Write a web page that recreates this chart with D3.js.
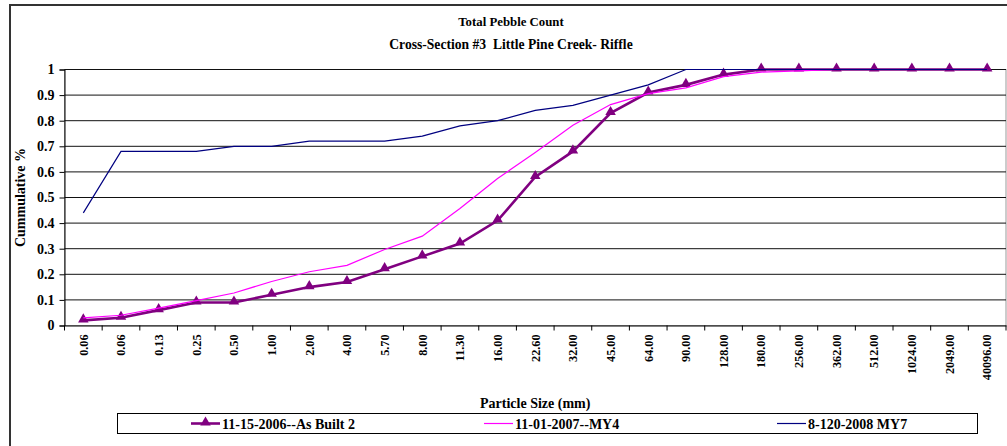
<!DOCTYPE html>
<html>
<head>
<meta charset="utf-8">
<script src="https://cdn.jsdelivr.net/npm/d3@7"></script>
<style>
	body { margin: 0; background: #fff; }
	svg { display: block; font-family: "Liberation Serif", "Times New Roman", serif; font-weight: bold; }
</style>
</head>
<body>
<div id="svg-div"></div>
<script>
// particle size classes (mm)
var sizes = ["0.06", "0.06", "0.13", "0.25", "0.50", "1.00", "2.00", "4.00", "5.70", "8.00", "11.30", "16.00",
	"22.60", "32.00", "45.00", "64.00", "90.00", "128.00", "180.00", "256.00", "362.00", "512.00",
	"1024.00", "2049.00", "40096.00"];

var asBuilt = [0.02, 0.03, 0.06, 0.09, 0.09, 0.12, 0.15, 0.17, 0.22, 0.27, 0.32, 0.41, 0.58, 0.68, 0.83, 0.91,
	0.94, 0.98, 1, 1, 1, 1, 1, 1, 1];
var my4 = [0.03, 0.04, 0.068, 0.097, 0.127, 0.172, 0.21, 0.235, 0.297, 0.349, 0.457, 0.574, 0.676, 0.782, 0.863,
	0.906, 0.928, 0.972, 0.99, 0.995, 1, 1, 1, 1, 1];
var my7 = [0.44, 0.68, 0.68, 0.68, 0.70, 0.70, 0.72, 0.72, 0.72, 0.74, 0.78, 0.80, 0.84, 0.86, 0.90, 0.94,
	1, 1, 1, 1, 1, 1, 1, 1, 1];

var yTicks = [0, 0.1, 0.2, 0.3, 0.4, 0.5, 0.6, 0.7, 0.8, 0.9, 1];
var seriesNames = ["11-15-2006--As Built 2", "11-01-2007--MY4", "8-120-2008 MY7"];

var plot = { left: 64.5, right: 1006, top: 69.5, bottom: 325.5 };

var svg = d3.select("#svg-div")
	.append("svg")
	.attr("width", 1007)
	.attr("height", 446);

// outer chart border (cut off on right / bottom)
svg.append("path")
	.attr("d", "M10,460 L10,5 L1020,5")
	.attr("fill", "none")
	.attr("stroke", "#333")
	.attr("stroke-width", 2);

// Scale
var xScale = d3.scaleBand()
	.domain(d3.range(sizes.length))
	.range([plot.left, plot.right]);

var yScale = d3.scaleLinear()
	.domain([0, 1])
	.range([plot.bottom, plot.top]);

// plot area border
svg.append("rect")
	.attr("x", plot.left)
	.attr("y", plot.top)
	.attr("width", plot.right - plot.left)
	.attr("height", plot.bottom - plot.top)
	.attr("fill", "none")
	.attr("stroke", "#999");

// Gridlines
svg.append("g")
	.selectAll("line")
	.data(yTicks.slice(1))
	.enter()
	.append("line")
	.attr("x1", plot.left)
	.attr("x2", plot.right)
	.attr("y1", function(d) { return yScale(d); })
	.attr("y2", function(d) { return yScale(d); })
	.attr("stroke", "#111");

// Axis
var yAxis = d3.axisLeft(yScale)
	.tickValues(yTicks)
	.tickSize(5)
	.tickFormat(function(d) { return d3.format("")(+d.toFixed(1)); });

var gy = svg.append("g")
	.attr("transform", "translate(" + plot.left + ",0)")
	.call(yAxis);
gy.select(".domain").attr("stroke", "#000");
gy.selectAll("text")
	.attr("font-family", "Liberation Serif")
	.attr("font-weight", "bold")
	.attr("font-size", 14)
	.attr("fill", "#000")
	.attr("x", -10);

var xAxis = d3.axisBottom(xScale)
	.tickSize(0)
	.tickFormat(function(i) { return sizes[i]; });

var gx = svg.append("g")
	.attr("transform", "translate(0," + plot.bottom + ")")
	.call(xAxis);
gx.select(".domain").attr("stroke", "#000");
gx.selectAll("text")
	.attr("font-family", "Liberation Serif")
	.attr("font-weight", "bold")
	.attr("font-size", 12.2)
	.attr("fill", "#000")
	.attr("transform", "rotate(-90)")
	.attr("text-anchor", "end")
	.attr("x", -9)
	.attr("y", 0)
	.attr("dy", "0.35em");

// category boundary ticks
svg.append("g")
	.selectAll("line")
	.data(d3.range(sizes.length + 1))
	.enter()
	.append("line")
	.attr("x1", function(i) { return plot.left + i * xScale.step(); })
	.attr("x2", function(i) { return plot.left + i * xScale.step(); })
	.attr("y1", plot.bottom)
	.attr("y2", plot.bottom + 5)
	.attr("stroke", "#000");

// Lines
var cx = function(d, i) { return xScale(i) + xScale.bandwidth() / 2; };
var line = d3.line()
	.x(cx)
	.y(function(d) { return yScale(d); });

svg.append("path")
	.datum(asBuilt)
	.attr("d", line)
	.attr("fill", "none")
	.attr("stroke", "#800080")
	.attr("stroke-width", 2.6);

var tri = d3.symbol().type(d3.symbolTriangle).size(48);
svg.append("g")
	.selectAll("path")
	.data(asBuilt)
	.enter()
	.append("path")
	.attr("d", tri)
	.attr("transform", function(d, i) { return "translate(" + cx(d, i) + "," + (yScale(d) - 1) + ")"; })
	.attr("fill", "#800080");

svg.append("path")
	.datum(my4)
	.attr("d", line)
	.attr("fill", "none")
	.attr("stroke", "#ff00ff")
	.attr("stroke-width", 1.2);

svg.append("path")
	.datum(my7)
	.attr("d", line)
	.attr("fill", "none")
	.attr("stroke", "#000080")
	.attr("stroke-width", 1.2);

// Titles
svg.append("text")
	.attr("x", 511)
	.attr("y", 26)
	.attr("text-anchor", "middle")
	.attr("font-size", 12.8)
	.text("Total Pebble Count");

svg.append("text")
	.attr("x", 511)
	.attr("y", 49)
	.attr("text-anchor", "middle")
	.attr("font-size", 13.6)
	.attr("xml:space", "preserve")
	.style("white-space", "pre")
	.text("Cross-Section #3  Little Pine Creek- Riffle");

svg.append("text")
	.attr("transform", "translate(25," + ((plot.top + plot.bottom) / 2) + ") rotate(-90)")
	.attr("text-anchor", "middle")
	.attr("font-size", 14)
	.text("Cummulative %");

svg.append("text")
	.attr("x", (plot.left + plot.right) / 2)
	.attr("y", 408)
	.attr("text-anchor", "middle")
	.attr("font-size", 14)
	.text("Particle Size (mm)");

// Legend
var legend = svg.append("g");
legend.append("rect")
	.attr("x", 117.5)
	.attr("y", 413.5)
	.attr("width", 860)
	.attr("height", 20)
	.attr("fill", "#fff")
	.attr("stroke", "#000");

var legendX = [191, 484, 777];
var legendColors = ["#800080", "#ff00ff", "#000080"];
seriesNames.forEach(function(name, k) {
	legend.append("line")
		.attr("x1", legendX[k])
		.attr("x2", legendX[k] + 29)
		.attr("y1", 423.5)
		.attr("y2", 423.5)
		.attr("stroke", legendColors[k])
		.attr("stroke-width", k == 0 ? 2.6 : 1.2);
	if (k == 0) {
		legend.append("path")
			.attr("d", tri)
			.attr("transform", "translate(" + (legendX[k] + 14.5) + ",422.5)")
			.attr("fill", "#800080");
	}
	legend.append("text")
		.attr("x", legendX[k] + 31)
		.attr("y", 428.5)
		.attr("font-size", 14)
		.text(name);
});
</script>
</body>
</html>
